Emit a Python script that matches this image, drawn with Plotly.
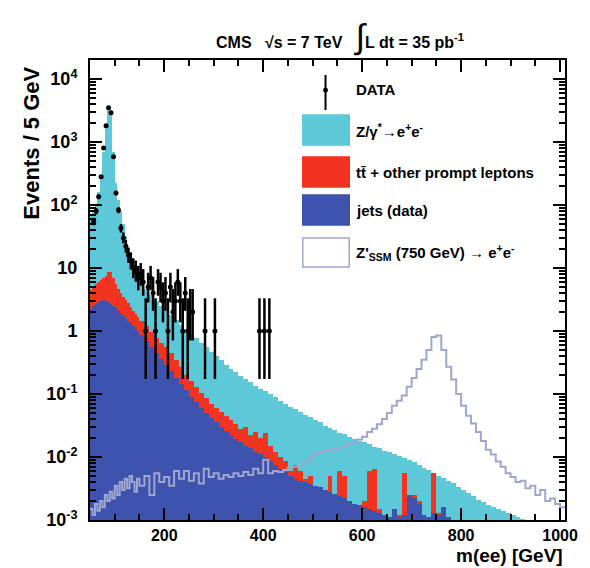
import math
import numpy as np
import plotly.graph_objects as go

# ---------------- data ----------------
# bins: 5 GeV from 50 to 150, 10 GeV from 150 to 1010 (values are Events / 5 GeV)
fine_left = list(range(50, 150, 5))
coarse_left = list(range(150, 1010, 10))

# top of full stack (jets + ttbar + Z/gamma*)
total_fine = [70, 80, 100, 160, 300, 700, 1800, 3700, 3200, 700,
              220, 120, 80, 50, 32, 21, 15, 11, 8.5, 7.0]
total_coarse = [5.6, 4.6, 3.7, 3.0, 2.5, 2.1, 1.8, 1.5, 1.25, 1.05,
                0.9, 0.77, 0.65, 0.55, 0.47, 0.40, 0.34, 0.29, 0.25, 0.22,
                0.19, 0.17, 0.155, 0.135, 0.12, 0.11, 0.10, 0.09, 0.078, 0.07,
                0.063, 0.057, 0.052, 0.046, 0.043, 0.038, 0.036, 0.031, 0.029, 0.027,
                0.024, 0.023, 0.021, 0.019, 0.018, 0.017, 0.016, 0.0145, 0.0138, 0.0125,
                0.012, 0.011, 0.0105, 0.0095, 0.009, 0.0082, 0.0075, 0.0068, 0.0062, 0.0056,
                0.005, 0.0046, 0.0042, 0.0038, 0.0034, 0.003, 0.0027, 0.0024, 0.0021, 0.0019,
                0.0017, 0.0016, 0.0015, 0.0014, 0.0013, 0.0012, 0.0011, 0.00105, 0.00095, 0.0009,
                0.0008, 0.0007, 0.0006, 0.0006, 0.0005, 0.0005]

# top of jets + ttbar stack
ttbar_fine = [4.5, 5.0, 5.5, 6.0, 6.5, 7.0, 7.5, 8.7, 8.5, 7.0,
              5.5, 4.6, 4.0, 3.5, 3.1, 2.8, 2.4, 2.1, 1.85, 1.65]
ttbar_coarse = [1.45, 1.2, 0.95, 0.78, 0.65, 0.55, 0.45, 0.35, 0.27, 0.2,
                0.16, 0.13, 0.105, 0.085, 0.07, 0.06, 0.052, 0.045, 0.039, 0.033,
                0.028, 0.03, 0.022, 0.025, 0.02, 0.024, 0.015, 0.012, 0.01, 0.0085,
                0.006, 0.0075, 0.006, 0.0045, 0.005, 0.0035, 0.003, 0.0025, 0.005, 0.002,
                0.006, 0.005, 0.002, 0.0018, 0.0015, 0.002, 0.006, 0.0065, 0.0015, 0.0012,
                0.0011, 0.0015, 0.0012, 0.0055, 0.0014, 0.0025, 0.002, 0.0011, 0.001, 0.0055,
                0.0013, 0.001, 0.0005, 0.0005, 0.0005, 0.0005, 0.0005, 0.0005, 0.0005, 0.0005,
                0.0005, 0.0005, 0.0005, 0.0005, 0.0005, 0.0005, 0.0005, 0.0005, 0.0005, 0.0005,
                0.0005, 0.0005, 0.0005, 0.0005, 0.0005, 0.0005]

# jets (data-driven)
jets_fine = [2.2, 2.5, 2.7, 2.9, 3.0, 3.1, 3.0, 2.9, 2.7, 2.5,
             2.3, 2.1, 1.9, 1.75, 1.6, 1.45, 1.32, 1.2, 1.08, 0.97]
jets_coarse = [0.85, 0.7, 0.55, 0.45, 0.36, 0.29, 0.23, 0.18, 0.145, 0.115,
               0.09, 0.075, 0.06, 0.05, 0.042, 0.036, 0.03, 0.026, 0.022, 0.019,
               0.017, 0.015, 0.014, 0.012, 0.011, 0.01, 0.0085, 0.0075, 0.0065, 0.0058,
               0.005, 0.0045, 0.0042, 0.004, 0.0037, 0.0035, 0.0033, 0.003, 0.0028, 0.0026,
               0.0024, 0.0022, 0.002, 0.0018, 0.0017, 0.0016, 0.0015, 0.0014, 0.0013, 0.0012,
               0.0011, 0.0015, 0.0011, 0.0012, 0.0025, 0.0022, 0.0018, 0.0012, 0.0011, 0.0013,
               0.0012, 0.0016, 0.0011, 0.0005, 0.0005, 0.0005, 0.0005, 0.0005, 0.0005, 0.0005,
               0.0005, 0.0005, 0.0005, 0.0005, 0.0005, 0.0005, 0.0005, 0.0005, 0.0005, 0.0005,
               0.0005, 0.0005, 0.0005, 0.0005, 0.0005, 0.0005]

# Z'_SSM (750 GeV) signal
zp_fine = [0.0015, 0.0012, 0.0018, 0.0014, 0.002, 0.0016, 0.0025, 0.002, 0.0028, 0.0022,
           0.0035, 0.0025, 0.004, 0.003, 0.0045, 0.0032, 0.005, 0.004, 0.0028, 0.0045]
zp_coarse = [0.0035, 0.005, 0.0025, 0.0055, 0.004, 0.0048, 0.0035, 0.006, 0.0045, 0.006,
             0.0042, 0.0055, 0.0038, 0.0065, 0.0048, 0.0055, 0.0045, 0.0052, 0.0048, 0.0055,
             0.005, 0.0058, 0.0052, 0.0065, 0.0055, 0.009, 0.0055, 0.006, 0.0058, 0.0062,
             0.0068, 0.007, 0.0072, 0.008, 0.0095, 0.011, 0.012, 0.0125, 0.013, 0.0135,
             0.014, 0.0145, 0.016, 0.017, 0.019, 0.021, 0.025, 0.028, 0.033, 0.04,
             0.05, 0.065, 0.078, 0.095, 0.13, 0.18, 0.25, 0.35, 0.5, 0.8,
             0.85, 0.5, 0.27, 0.17, 0.1, 0.065, 0.045, 0.034, 0.025, 0.018,
             0.013, 0.011, 0.0085, 0.007, 0.0055, 0.0048, 0.004, 0.0042, 0.0032, 0.0035,
             0.0025, 0.003, 0.002, 0.0022, 0.0018, 0.0016]

# observed data (5 GeV bins)
data_mass = [57.5, 62.5, 67.5, 72.5, 77.5, 82.5, 87.5, 92.5, 97.5, 102.5,
             107.5, 112.5, 117.5, 122.5, 127.5, 132.5, 137.5, 142.5, 147.5, 152.5,
             157.5, 162.5, 167.5, 172.5, 177.5, 182.5, 187.5, 192.5, 197.5, 202.5,
             207.5, 212.5, 217.5, 222.5, 227.5, 232.5, 237.5, 242.5, 247.5, 252.5,
             257.5, 282.5, 302.5, 392.5, 402.5, 412.5]
data_counts = [55, 80, 135, 280, 800, 1800, 3500, 2900, 580, 155,
               83, 43, 30, 22, 16, 13, 10, 9, 7, 8,
               6, 1, 5, 7, 4, 1, 6, 5, 3, 4,
               1, 5, 2, 3, 6, 3, 1, 4, 1, 2,
               2, 1, 1, 1, 1, 1]

y_tick_vals = [1e-3, 1e-2, 1e-1, 1, 10, 1e2, 1e3, 1e4]
y_tick_text = ["10<sup>-3</sup>", "10<sup>-2</sup>", "10<sup>-1</sup>", "1", "10",
               "10<sup>2</sup>", "10<sup>3</sup>", "10<sup>4</sup>"]
x_tick_vals = [200, 400, 600, 800, 1000]

# ---------------- derived ----------------
left = np.array(fine_left + coarse_left, dtype=float)
width = np.array([5.0] * len(fine_left) + [10.0] * len(coarse_left))
center = left + width / 2
jets = np.array(jets_fine + jets_coarse)
ttbar_top = np.maximum(np.array(ttbar_fine + ttbar_coarse), jets)
total_top = np.maximum(np.array(total_fine + total_coarse), ttbar_top)
zp = np.array(zp_fine + zp_coarse)


def pois_cdf(n, mu):
    return sum(math.exp(-mu + k * math.log(mu) - math.lgamma(k + 1)) for k in range(n + 1))


def garwood(n):
    a = 0.158655
    if n > 30:
        return n - math.sqrt(n), n + math.sqrt(n)
    lo_, hi_ = float(n), n + 10 * math.sqrt(n + 1) + 10
    for _ in range(80):
        mid = (lo_ + hi_) / 2
        if pois_cdf(n, mid) > a:
            lo_ = mid
        else:
            hi_ = mid
    up = (lo_ + hi_) / 2
    lo_, hi_ = 1e-9, float(n)
    for _ in range(80):
        mid = (lo_ + hi_) / 2
        if 1 - pois_cdf(n - 1, mid) < a:
            lo_ = mid
        else:
            hi_ = mid
    low = (lo_ + hi_) / 2
    return low, up


err_lo, err_hi = [], []
for n in data_counts:
    lo, up = garwood(n)
    err_lo.append(n - lo)
    err_hi.append(up - n)

CYAN = "#5cc8d8"
RED = "#f2331f"
BLUE = "#3d53ad"
ZPC = "#9fa6d0"
FONT = "Liberation Sans"

fig = go.Figure()
for vals, col in [(total_top, CYAN), (ttbar_top, RED), (jets, BLUE)]:
    fig.add_trace(go.Bar(x=center, y=vals, width=width,
                         marker=dict(color=col, line=dict(width=0)),
                         showlegend=False, hoverinfo="skip"))

# Z' step line
step_x = np.append(left, left[-1] + width[-1])
step_y = np.append(zp, zp[-1])
fig.add_trace(go.Scatter(x=step_x, y=step_y, mode="lines", line_shape="hv",
                         line=dict(color=ZPC, width=2), showlegend=False))

fig.add_trace(go.Scatter(
    x=data_mass, y=data_counts, mode="markers",
    marker=dict(color="black", size=5),
    error_y=dict(type="data", symmetric=False, array=err_hi, arrayminus=err_lo,
                 color="black", thickness=2.5, width=0),
    error_x=dict(type="constant", value=2.5, color="black", thickness=2.5, width=0),
    showlegend=False))

# ---------------- layout ----------------
L, R, T, B = 90, 570, 60, 520
W, H = 590, 568


def px(xp):
    return (xp - L) / (R - L)


def py(yp):
    return (B - yp) / (B - T)


shapes = []
annotations = []
# legend boxes
for (y0, y1, fill, line) in [(115, 145, CYAN, CYAN), (157, 187, RED, RED),
                             (195, 225, BLUE, BLUE), (238, 267, "white", ZPC)]:
    shapes.append(dict(type="rect", xref="paper", yref="paper",
                       x0=px(305), x1=px(352), y0=py(y1), y1=py(y0),
                       fillcolor=fill, line=dict(color=line, width=1.5)))
shapes.append(dict(type="line", xref="paper", yref="paper",
                   x0=px(328), x1=px(328), y0=py(110), y1=py(75),
                   line=dict(color="black", width=2)))
shapes.append(dict(type="circle", xref="paper", yref="paper",
                   x0=px(325.5), x1=px(330.5), y0=py(92.5), y1=py(87.5),
                   fillcolor="black", line=dict(color="black", width=0)))

leg_labels = [(90, "DATA"),
              (130, "Z/γ<sup>*</sup>→e<sup>+</sup>e<sup>-</sup>"),
              (172, "tt̄ + other prompt leptons"),
              (210, "jets (data)"),
              (252, "Z'<sub>SSM</sub> (750 GeV) → e<sup>+</sup>e<sup>-</sup>")]
for yy, txt in leg_labels:
    annotations.append(dict(xref="paper", yref="paper", x=px(357), y=py(yy),
                            xanchor="left", yanchor="middle", showarrow=False,
                            text="<b>" + txt + "</b>",
                            font=dict(family=FONT, size=15, color="black")))

annotations.append(dict(
    xref="paper", yref="paper", x=px(343), y=py(36), xanchor="center", yanchor="middle",
    showarrow=False,
    text="<b>CMS   √s = 7 TeV   </b><span style='font-size:34px'>∫</span><b>L dt = 35 pb<sup>-1</sup></b>",
    font=dict(family=FONT, size=16, color="black")))
annotations.append(dict(
    xref="paper", yref="paper", x=px(30), y=py(143), xanchor="center", yanchor="middle",
    showarrow=False, textangle=-90, text="<b>Events / 5 GeV</b>",
    font=dict(family=FONT, size=22, color="black")))
annotations.append(dict(
    xref="paper", yref="paper", x=1.0, y=py(555), xanchor="right", yanchor="middle",
    showarrow=False, text="<b>m(ee) [GeV]</b>",
    font=dict(family=FONT, size=19, color="black")))

minor_y = [m * 10 ** e for e in range(-3, 5) for m in range(2, 10)]

fig.update_layout(
    width=W, height=H,
    margin=dict(l=L, r=W - R, t=T, b=H - B),
    paper_bgcolor="white", plot_bgcolor="white",
    barmode="overlay", bargap=0,
    shapes=shapes, annotations=annotations,
    xaxis=dict(range=[50, 1010], tickvals=x_tick_vals, ticks="inside", ticklen=12,
               tickwidth=1.5, tickcolor="black", showline=True, linecolor="black",
               linewidth=2, mirror="allticks", showgrid=False, zeroline=False,
               ticklabelstandoff=0,
               tickfont=dict(family=FONT, size=16, color="black", weight="bold"),
               minor=dict(dtick=50, tick0=0, ticks="inside", ticklen=6,
                          tickwidth=1.5, tickcolor="black", showgrid=False)),
    yaxis=dict(type="log", range=[-3, 4.3], tickvals=y_tick_vals, ticktext=y_tick_text,
               ticks="inside", ticklen=12, tickwidth=1.5, tickcolor="black",
               showline=True, linecolor="black", linewidth=2, mirror="allticks",
               showgrid=False, zeroline=False, ticklabelstandoff=7,
               tickfont=dict(family=FONT, size=18, color="black", weight="bold"),
               minor=dict(tickvals=minor_y, ticks="inside", ticklen=6,
                          tickwidth=1.5, tickcolor="black", showgrid=False)),
)

fig.write_html("out.html")
